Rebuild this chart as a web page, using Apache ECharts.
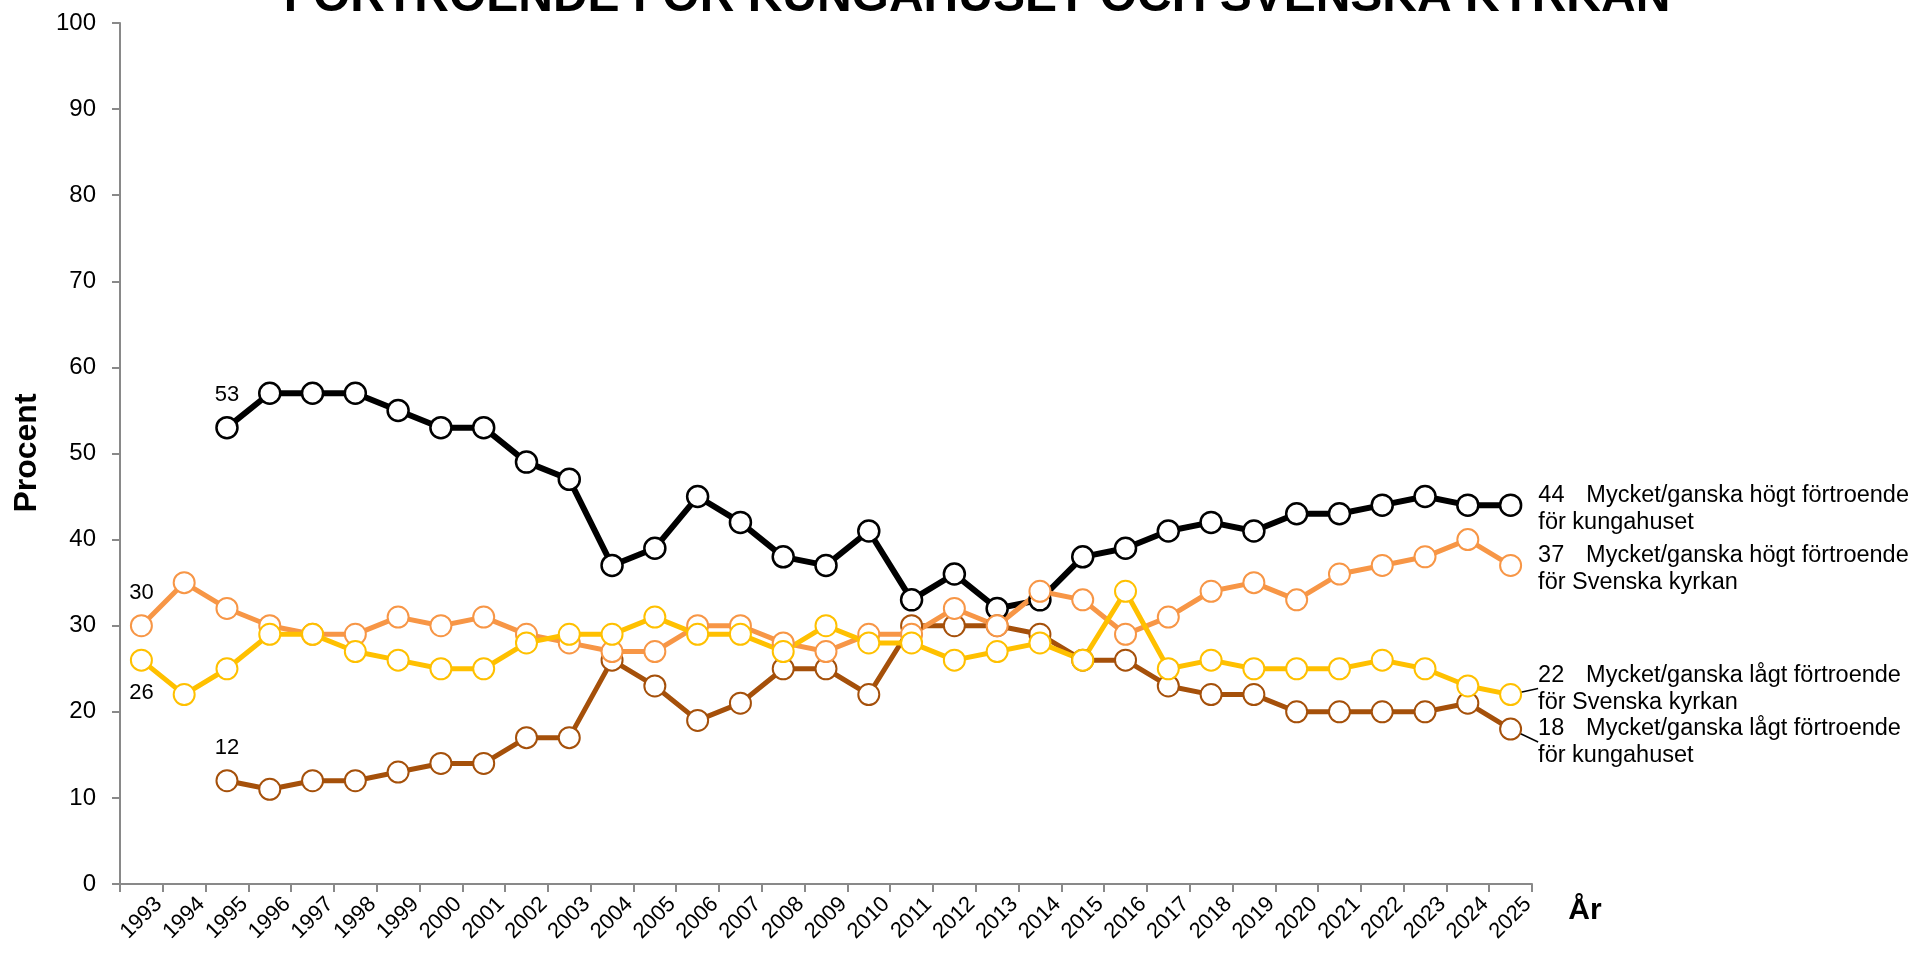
<!DOCTYPE html>
<html>
<head>
<meta charset="utf-8">
<script src="https://cdn.jsdelivr.net/npm/echarts@6/dist/echarts.min.js"></script>
<style>
html,body{margin:0;padding:0;background:#fff;}
#chart{width:1915px;height:960px;}
</style>
</head>
<body>
<div id="chart"></div>
<script>
const years = ['1993','1994','1995','1996','1997','1998','1999','2000','2001','2002','2003','2004','2005','2006','2007','2008','2009','2010','2011','2012','2013','2014','2015','2016','2017','2018','2019','2020','2021','2022','2023','2024','2025'];
const yTicks = [0,10,20,30,40,50,60,70,80,90,100];

const kungHigh = [null,null,53,57,57,57,55,53,53,49,47,37,39,45,42,38,37,41,33,36,32,33,38,39,41,42,41,43,43,44,45,44,44];
const kyrkaHigh = [30,35,32,30,29,29,31,30,31,29,28,27,27,30,30,28,27,29,29,32,30,34,33,29,31,34,35,33,36,37,38,40,37];
const kyrkaLow = [26,22,25,29,29,27,26,25,25,28,29,29,31,29,29,27,30,28,28,26,27,28,26,34,25,26,25,25,25,26,25,23,22];
const kungLow = [null,null,12,11,12,12,13,14,14,17,17,26,23,19,21,25,25,22,30,30,30,29,26,26,23,22,22,20,20,20,20,21,18];

const names = ['Mycket/ganska högt förtroende för kungahuset','Mycket/ganska högt förtroende för Svenska kyrkan','Mycket/ganska lågt förtroende för Svenska kyrkan','Mycket/ganska lågt förtroende för kungahuset'];
const endLine1 = ['Mycket/ganska högt förtroende','Mycket/ganska högt förtroende','Mycket/ganska lågt förtroende','Mycket/ganska lågt förtroende'];
const endLine2 = ['för kungahuset','för Svenska kyrkan','för Svenska kyrkan','för kungahuset'];
const titleText = 'FÖRTROENDE FÖR KUNGAHUSET OCH SVENSKA KYRKAN';

const colors = ['#000000','#F79646','#FFC000','#A5500A'];
const FONT = '"Liberation Sans", Arial, sans-serif';

function buildData(values, idx, startLabelPos) {
  const first = values.findIndex(v => v !== null);
  const last = values.length - 1;
  return values.map((v, i) => {
    if (v === null) return '-';
    if (i === first) {
      return {value: v, label: {show: true, position: startLabelPos, distance: 10, formatter: '{c}', fontSize: 22}, labelLine: {show: false}};
    }
    if (i === last) {
      return {value: v,
        label: {show: true, position: 'right', distance: 16, fontSize: 23.5, lineHeight: 27,
          formatter: '{n|{c}}' + endLine1[idx] + '\n' + endLine2[idx],
          rich: {n: {width: 48, fontSize: 23.5, fontFamily: FONT, color: '#000', lineHeight: 27}}},
        labelLine: {show: idx >= 2}};
    }
    return v;
  });
}

const allValues = [kungHigh, kyrkaHigh, kyrkaLow, kungLow];
const startPos = ['top','top','bottom','top'];
const endDy = [4, 4, -6, 13];
const order = [0, 3, 1, 2];

const series = order.map(idx => ({
  name: names[idx],
  type: 'line',
  data: buildData(allValues[idx], idx, startPos[idx]),
  symbol: 'circle',
  symbolSize: 21,
  showAllSymbol: true,
  connectNulls: false,
  lineStyle: {color: colors[idx], width: idx === 0 ? 6 : 5},
  itemStyle: {color: '#ffffff', borderColor: colors[idx], borderWidth: idx === 0 ? 2.5 : 2},
  label: {color: '#000', fontSize: 22, fontFamily: FONT},
  labelLine: {show: false, lineStyle: {color: '#000', width: 1.5}},
  labelLayout: function (p) {
    if (p.dataIndex === years.length - 1) return {dy: endDy[idx]};
    return {};
  },
  emphasis: {disabled: true},
  animation: false,
  z: 2
}));

const chart = echarts.init(document.getElementById('chart'));
chart.setOption({
  animation: false,
  backgroundColor: '#ffffff',
  grid: {left: 120, right: 383, top: 23, bottom: 76, containLabel: false},
  xAxis: {
    type: 'category',
    data: years,
    boundaryGap: true,
    axisLine: {lineStyle: {color: '#898989', width: 2}},
    axisTick: {show: true, interval: 0, length: 8, lineStyle: {color: '#898989', width: 2}},
    axisLabel: {interval: 0, rotate: 45, align: 'center', verticalAlign: 'middle', fontSize: 22, color: '#000', fontFamily: FONT, margin: 34}
  },
  yAxis: {
    type: 'value',
    min: yTicks[0],
    max: yTicks[yTicks.length - 1],
    interval: 10,
    splitLine: {show: false},
    axisLine: {show: true, lineStyle: {color: '#898989', width: 2}},
    axisTick: {show: true, length: 8, lineStyle: {color: '#898989', width: 2}},
    axisLabel: {fontSize: 24, color: '#000', fontFamily: FONT, margin: 24}
  },
  graphic: [
    {type: 'text', x: 977, y: -2, style: {text: titleText, font: 'bold 48px ' + FONT, fill: '#000', textAlign: 'center', textVerticalAlign: 'middle'}},
    {type: 'text', x: 27, y: 453, rotation: Math.PI / 2, style: {text: 'Procent', font: 'bold 32px ' + FONT, fill: '#000', textAlign: 'center', textVerticalAlign: 'middle'}},
    {type: 'text', x: 1585, y: 911, style: {text: 'År', font: 'bold 30px ' + FONT, fill: '#000', textAlign: 'center', textVerticalAlign: 'middle'}}
  ],
  series: series
});
</script>
</body>
</html>
